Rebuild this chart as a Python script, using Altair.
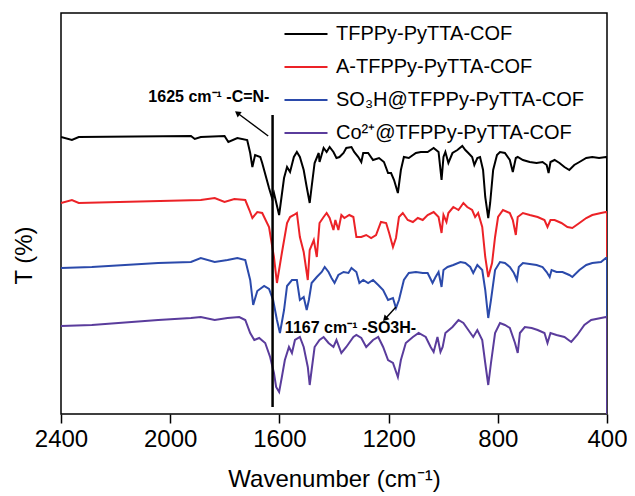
import altair as alt
import pandas as pd

FONT = "Liberation Sans"

series_names = ["TFPPy-PyTTA-COF", "A-TFPPy-PyTTA-COF",
                "SO\u2083H@TFPPy-PyTTA-COF", "Co\u00b2\u207a@TFPPy-PyTTA-COF"]
series_colors = ["#000000", "#ec2227", "#2b4aab", "#5a3c9c"]

# (wavenumber, offset transmittance)
black = [(2400, 277), (2360, 274), (2335, 277), (1924, 278), (1910, 275), (1888, 277), (1801, 278),
         (1787, 272), (1754, 276), (1718, 274), (1707, 261), (1699, 247), (1689, 259), (1670, 257),
         (1663, 251), (1638, 226), (1627, 216), (1620, 221), (1601, 199), (1583, 236), (1572, 247),
         (1561, 242), (1547, 257), (1536, 262), (1525, 257), (1511, 244), (1500, 227), (1489, 211),
         (1482, 227), (1471, 251), (1456, 261), (1453, 252), (1438, 266), (1427, 262), (1416, 267),
         (1402, 262), (1391, 256), (1380, 257), (1365, 261), (1355, 266), (1336, 267), (1326, 262),
         (1311, 257), (1300, 252), (1293, 261), (1275, 261), (1257, 254), (1235, 256), (1217, 252),
         (1202, 241), (1191, 241), (1180, 234), (1166, 221), (1155, 244), (1144, 257), (1126, 256),
         (1100, 261), (1082, 262), (1057, 262), (1035, 266), (1017, 262), (1006, 234), (999, 257),
         (992, 262), (981, 251), (966, 261), (948, 264), (930, 268), (919, 264), (908, 261),
         (894, 257), (886, 249), (875, 256), (865, 257), (854, 244), (846, 217), (835, 196),
         (828, 211), (817, 244), (803, 259), (792, 262), (774, 261), (756, 254), (745, 242),
         (734, 256), (727, 257), (708, 254), (683, 252), (658, 251), (636, 252), (621, 249),
         (614, 241), (607, 252), (592, 254), (574, 251), (556, 247), (538, 244), (520, 249),
         (501, 252), (476, 256), (454, 257), (429, 256), (404, 257), (400, 257), (400, 0)]

red = [(2400, 211), (2360, 214), (2335, 211), (1888, 214), (1837, 216), (1801, 212), (1765, 215),
       (1725, 214), (1710, 204), (1699, 196), (1681, 202), (1663, 201), (1638, 187), (1620, 157),
       (1609, 131), (1591, 161), (1572, 191), (1561, 197), (1547, 199), (1536, 201), (1525, 177),
       (1511, 162), (1496, 134), (1489, 164), (1474, 174), (1463, 157), (1453, 191), (1438, 197),
       (1427, 201), (1416, 196), (1402, 184), (1395, 194), (1384, 184), (1373, 199), (1362, 196),
       (1344, 199), (1329, 197), (1318, 177), (1300, 177), (1282, 179), (1264, 176), (1246, 179),
       (1228, 192), (1209, 191), (1198, 181), (1184, 167), (1173, 176), (1162, 197), (1148, 201),
       (1130, 194), (1111, 192), (1093, 196), (1075, 194), (1057, 199), (1035, 202), (1017, 197),
       (1006, 181), (999, 199), (988, 192), (981, 201), (963, 207), (944, 204), (926, 211),
       (912, 207), (894, 204), (883, 197), (872, 201), (857, 187), (846, 157), (835, 137),
       (821, 151), (810, 177), (799, 197), (781, 204), (756, 201), (745, 194), (734, 179),
       (727, 197), (708, 201), (683, 199), (654, 197), (629, 194), (618, 187), (607, 194),
       (592, 194), (567, 191), (545, 187), (527, 186), (501, 191), (476, 196), (454, 199),
       (422, 201), (404, 202), (400, 202), (400, 0)]

blue = [(2400, 146), (2287, 147), (2044, 151), (1924, 152), (1888, 156), (1837, 152), (1790, 154),
        (1754, 156), (1725, 154), (1707, 134), (1696, 109), (1681, 123), (1656, 128), (1638, 125),
        (1623, 114), (1609, 94), (1598, 81), (1583, 104), (1572, 128), (1554, 134), (1536, 134),
        (1525, 114), (1511, 117), (1500, 104), (1492, 114), (1482, 131), (1463, 137), (1445, 142),
        (1434, 147), (1420, 142), (1409, 136), (1398, 131), (1384, 139), (1365, 142), (1347, 141),
        (1336, 146), (1318, 142), (1307, 131), (1293, 134), (1275, 131), (1257, 134), (1238, 129),
        (1220, 124), (1202, 114), (1184, 116), (1173, 106), (1162, 114), (1144, 134), (1126, 141),
        (1100, 142), (1075, 141), (1057, 141), (1039, 131), (1028, 137), (1017, 142), (1006, 127),
        (999, 144), (984, 147), (963, 149), (937, 152), (919, 151), (901, 147), (890, 141),
        (875, 149), (857, 144), (846, 124), (835, 96), (825, 114), (810, 144), (792, 152),
        (774, 151), (756, 147), (741, 141), (730, 134), (723, 147), (708, 151), (683, 150),
        (658, 149), (636, 147), (621, 142), (610, 137), (603, 144), (585, 142), (563, 142),
        (538, 139), (527, 137), (501, 144), (476, 149), (454, 151), (422, 152), (404, 156),
        (400, 156), (400, 0)]

purple = [(2400, 88), (2287, 89), (2044, 94), (1924, 96), (1888, 97), (1837, 94), (1790, 96),
          (1747, 97), (1725, 94), (1707, 81), (1692, 74), (1674, 76), (1652, 71), (1634, 57),
          (1620, 41), (1612, 27), (1601, 22), (1591, 37), (1580, 54), (1565, 67), (1554, 61),
          (1543, 74), (1525, 77), (1511, 67), (1496, 47), (1489, 29), (1482, 44), (1471, 67),
          (1453, 74), (1438, 77), (1420, 71), (1402, 67), (1391, 74), (1373, 61), (1355, 67),
          (1329, 77), (1318, 79), (1300, 76), (1282, 67), (1257, 74), (1238, 77), (1220, 67),
          (1202, 54), (1184, 51), (1166, 37), (1155, 54), (1137, 71), (1111, 77), (1090, 81),
          (1064, 77), (1046, 67), (1035, 62), (1021, 77), (1010, 62), (1002, 67), (992, 81),
          (966, 87), (944, 94), (926, 91), (908, 84), (890, 77), (875, 84), (857, 74), (846, 51),
          (835, 29), (825, 51), (810, 81), (792, 91), (774, 89), (756, 86), (737, 71), (727, 61),
          (719, 81), (701, 87), (676, 86), (654, 84), (629, 81), (618, 71), (607, 81), (585, 79),
          (556, 77), (531, 72), (509, 79), (483, 89), (458, 94), (422, 96), (404, 97),
          (400, 97), (400, 0)]

x_ticks = [2400, 2000, 1600, 1200, 800, 400]

# annotations
marker_line = {"x": 1625, "y": 299, "y2": 7}
arrows = [
    {"x": 1641, "y": 278, "x2": 1754, "y2": 301, "angle": 307},
    {"x": 1173, "y": 107, "x2": 1213, "y2": 95, "angle": 223},
]
labels = [
    {"x": 2080, "y": 317, "text": "1625 cm\u207b\u00b9 -C=N-"},
    {"x": 1580, "y": 86, "text": "1167 cm\u207b\u00b9 -SO3H-"},
]

rows = []
for name, pts in zip(series_names, [black, red, blue, purple]):
    for i, (w, t) in enumerate(pts):
        rows.append({"series": name, "wn": w, "T": t, "idx": i})
df = pd.DataFrame(rows)

xscale = alt.Scale(domain=[400, 2400], reverse=True, nice=False, zero=False)
yscale = alt.Scale(domain=[0, 401], nice=False, zero=False)

lines = alt.Chart(df).mark_line(strokeWidth=2, clip=True).encode(
    x=alt.X("wn:Q", scale=xscale,
            axis=alt.Axis(values=x_ticks, format="d", title="Wavenumber (cm\u207b\u00b9)",
                          grid=False, domain=False, tickSize=9, tickWidth=1.5,
                          tickColor="black", labelFontSize=24, labelFont=FONT,
                          labelColor="black", labelFlush=False, labelPadding=4,
                          titleFontSize=24, titleFont=FONT, titleFontWeight="normal",
                          titleColor="black", titlePadding=16)),
    y=alt.Y("T:Q", scale=yscale,
            axis=alt.Axis(title="T (%)", labels=False, ticks=False, domain=False, grid=False,
                          titleFontSize=24, titleFont=FONT, titleFontWeight="normal",
                          titleColor="black", titlePadding=25, titleY=242)),
    color=alt.Color("series:N", sort=series_names,
                    scale=alt.Scale(domain=series_names, range=series_colors),
                    legend=alt.Legend(title=None, orient="none", legendX=222, legendY=-2,
                                      symbolType="stroke", symbolSize=1850,
                                      symbolStrokeWidth=2, labelFontSize=20, labelFont=FONT,
                                      labelColor="black", labelOffset=7, rowPadding=-5,
                                      labelLimit=0, padding=0)),
    order="idx:Q",
)

vline = alt.Chart(pd.DataFrame([marker_line])).mark_rule(color="black", strokeWidth=2.5).encode(
    x=alt.X("x:Q", scale=xscale), y=alt.Y("y:Q", scale=yscale), y2="y2:Q")

arrow_df = pd.DataFrame(arrows)
arrow_lines = alt.Chart(arrow_df).mark_rule(color="black", strokeWidth=1.4).encode(
    x=alt.X("x:Q", scale=xscale), y=alt.Y("y:Q", scale=yscale), x2="x2:Q", y2="y2:Q")
arrow_heads = alt.Chart(arrow_df).mark_point(shape="triangle-up", filled=True, color="black",
                                             size=45, opacity=1).encode(
    x=alt.X("x2:Q", scale=xscale), y=alt.Y("y2:Q", scale=yscale),
    angle=alt.Angle("angle:Q", scale=None))

texts = alt.Chart(pd.DataFrame(labels)).mark_text(
    align="left", baseline="middle", font=FONT, fontSize=16, fontWeight="bold", color="black"
).encode(x=alt.X("x:Q", scale=xscale), y=alt.Y("y:Q", scale=yscale), text="text:N")

chart = alt.layer(lines, vline, arrow_lines, arrow_heads, texts).properties(
    width=546, height=401,
    autosize=alt.AutoSizeParams(type="none"),
    padding={"left": 53, "top": 5, "right": 20, "bottom": 82},
).configure_view(stroke="black", strokeWidth=1.5)

chart.save("out.html", embed_options={"renderer": "svg", "actions": False})
